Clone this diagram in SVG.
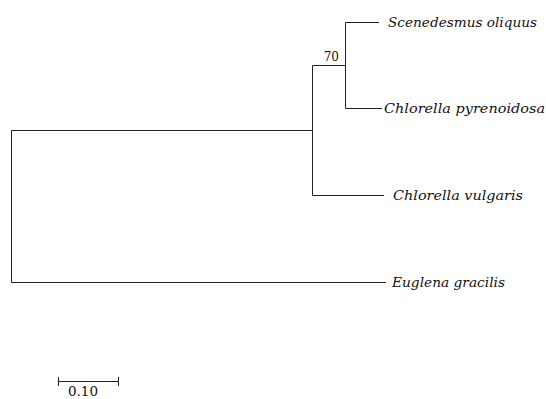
<svg xmlns="http://www.w3.org/2000/svg" width="546" height="399" viewBox="0 0 546 399">
<style>
.br{fill:none;stroke:#222;stroke-width:1}
.lb{font-family:"DejaVu Serif","Liberation Serif",serif;font-style:italic;font-size:13px;fill:#111}
.bs{font-family:"DejaVu Serif","Liberation Serif",serif;font-size:12px;fill:#111}
</style>
<rect width="546" height="399" fill="#fff"/>
<g id="connectors">
<path class="br" d="M11.5,130.5V282.5M11.5,130.5H312.5M11.5,282.5H386"/>
<path class="br" d="M312.5,65.5V195.5M312.5,65.5H345.5M312.5,195.5H384"/>
<path class="br" d="M345.5,22.5V108.5M345.5,22.5H379M345.5,108.5H382"/>
</g>
<g id="node-scenedesmus"><text class="lb" x="388" y="27" textLength="149" lengthAdjust="spacingAndGlyphs">Scenedesmus oliquus</text></g>
<g id="node-pyrenoidosa"><text class="lb" x="384" y="113" textLength="161" lengthAdjust="spacingAndGlyphs">Chlorella pyrenoidosa</text></g>
<g id="node-vulgaris"><text class="lb" x="393" y="200" textLength="130" lengthAdjust="spacingAndGlyphs">Chlorella vulgaris</text></g>
<g id="node-euglena"><text class="lb" x="392" y="287" textLength="113" lengthAdjust="spacingAndGlyphs">Euglena gracilis</text></g>
<g id="bootstrap"><text class="bs" x="339" y="61" text-anchor="end">70</text></g>
<g id="scalebar">
<path class="br" d="M58.5,381.5H118.5M58.5,377V386M118.5,377V386"/>
<text class="bs" x="68" y="396" textLength="30" lengthAdjust="spacingAndGlyphs">0.10</text>
</g>
</svg>
